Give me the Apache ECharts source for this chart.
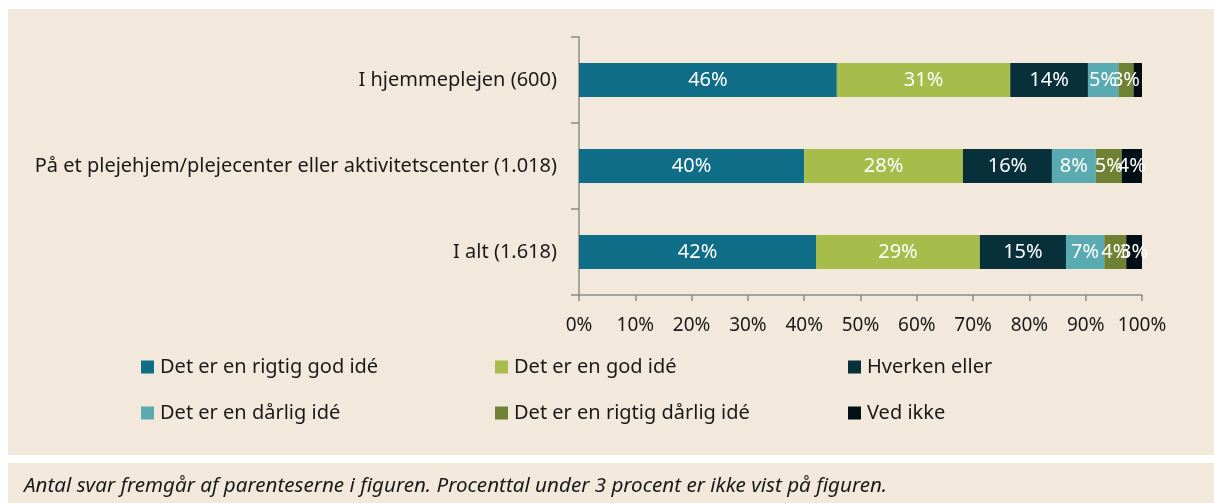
<!DOCTYPE html>
<html>
<head>
<meta charset="utf-8">
<script src="https://cdn.jsdelivr.net/npm/echarts@6/dist/echarts.min.js"></script>
<style>
html,body{margin:0;padding:0;background:#ffffff;}
#chart{width:1214px;height:503px;}
</style>
</head>
<body>
<div id="chart"></div>
<script>
// Categories (bottom to top as drawn by ECharts)
var categories = ['I alt (1.618)', 'På et plejehjem/plejecenter eller aktivitetscenter (1.018)', 'I hjemmeplejen (600)'];
var seriesNames = ['Det er en rigtig god idé', 'Det er en god idé', 'Hverken eller', 'Det er en dårlig idé', 'Det er en rigtig dårlig idé', 'Ved ikke'];
var rigtigGod = [42.1, 40.0, 45.8];
var god = [29.1, 28.2, 30.8];
var hverken = [15.3, 15.8, 13.8];
var daarlig = [6.8, 7.8, 5.4];
var rigtigDaarlig = [3.9, 4.6, 2.7];
var vedIkke = [2.8, 3.6, 1.5];
var xTicks = [0, 10, 20, 30, 40, 50, 60, 70, 80, 90, 100];
var colors = ['#0f6d88', '#a6bd4b', '#07303b', '#5aabb1', '#6f8132', '#020f15'];
var footnote = 'Antal svar fremgår af parenteserne i figuren. Procenttal under 3 procent er ikke vist på figuren.';

var values = [rigtigGod, god, hverken, daarlig, rigtigDaarlig, vedIkke];
var FONT = 'Noto Sans';
var chart = echarts.init(document.getElementById('chart'));

var series = seriesNames.map(function (n, i) {
  return {
    name: n,
    type: 'bar',
    stack: 'total',
    barWidth: 34,
    data: values[i],
    itemStyle: { color: colors[i] },
    label: {
      show: true,
      position: 'inside',
      color: '#ffffff',
      fontFamily: FONT,
      fontSize: 20,
      formatter: function (p) {
        var r = Math.round(p.value);
        return r >= 3 ? r + '%' : '';
      }
    }
  };
});

var legendPos = [
  [141, 357], [495, 357], [848, 357],
  [141, 403], [495, 403], [848, 403]
];
var legends = seriesNames.map(function (n, i) {
  return {
    data: [n],
    left: legendPos[i][0],
    top: legendPos[i][1],
    padding: 0,
    itemWidth: 13,
    itemHeight: 13,
    icon: 'rect',
    selectedMode: false,
    textStyle: { fontFamily: FONT, fontSize: 20, color: '#1a1a1a', padding: [0, 0, 0, 1] }
  };
});

chart.setOption({
  backgroundColor: '#ffffff',
  animation: false,
  graphic: [
    { type: 'rect', z: -10, shape: { x: 8, y: 9, width: 1206, height: 446 }, style: { fill: '#f3e8dc' } },
    { type: 'rect', z: -10, shape: { x: 8, y: 463, width: 1206, height: 40 }, style: { fill: '#f3e8dc' } },
    { type: 'text', z: 10, left: 24, top: 476, style: { text: footnote, fill: '#1a1a1a', font: 'italic 20.6px "' + FONT + '"' } }
  ],
  legend: legends,
  grid: { left: 579, right: 72, top: 37, bottom: 208 },
  xAxis: {
    type: 'value',
    min: 0,
    max: 100,
    interval: 10,
    axisLine: { show: true, lineStyle: { color: '#8c8c8c', width: 1.5 } },
    axisTick: { show: true, length: 6, lineStyle: { color: '#8c8c8c', width: 1.5 } },
    splitLine: { show: false },
    axisLabel: {
      formatter: function (v) { return xTicks.indexOf(v) >= 0 ? v + '%' : ''; },
      fontFamily: FONT, fontSize: 19, color: '#1a1a1a', margin: 21
    }
  },
  yAxis: {
    type: 'category',
    data: categories,
    axisLine: { show: true, lineStyle: { color: '#8c8c8c', width: 1.5 } },
    axisTick: { show: true, length: 8, lineStyle: { color: '#8c8c8c', width: 1.5 } },
    axisLabel: { fontFamily: FONT, fontSize: 20, color: '#1a1a1a', margin: 22 }
  },
  series: series
});
</script>
</body>
</html>
